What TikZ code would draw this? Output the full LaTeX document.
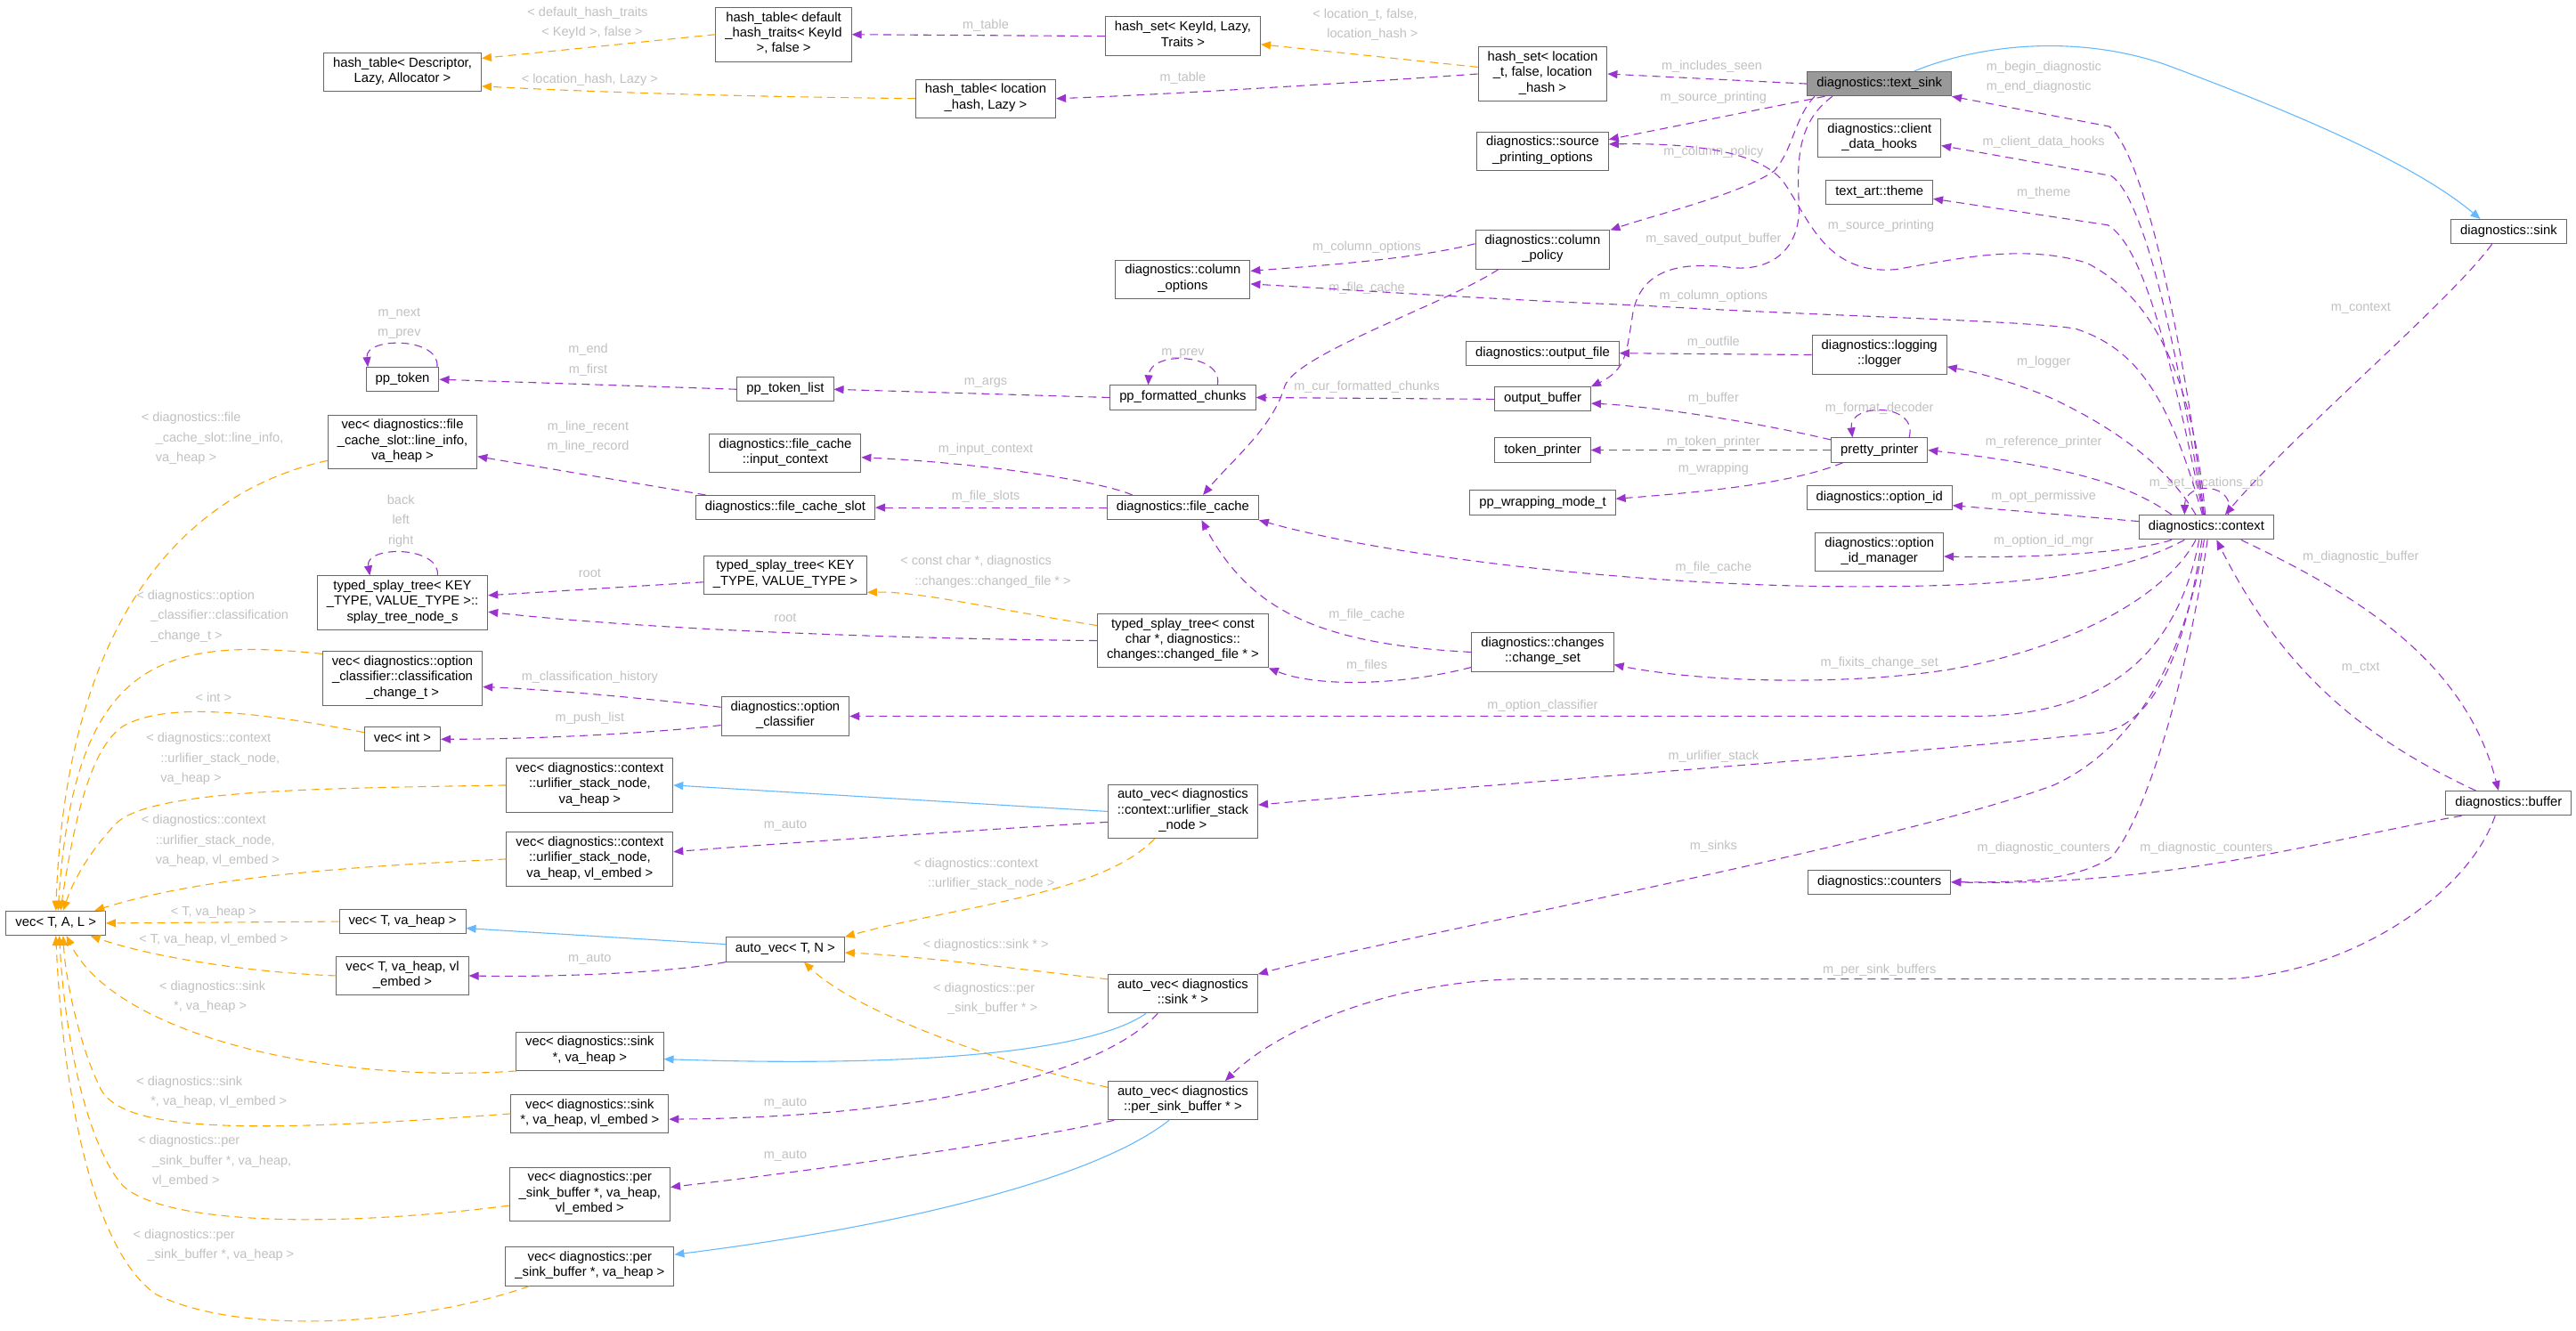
\documentclass[tikz,border=0pt]{standalone}
\usepackage{fontspec}
\setmainfont{Liberation Sans}
\usetikzlibrary{arrows.meta}
\definecolor{edgeuse}{HTML}{9A32CD}
\definecolor{edgetpl}{HTML}{FFA500}
\definecolor{edgebase}{HTML}{63B8FF}
\definecolor{lblgray}{HTML}{C0C0C0}
\definecolor{boxline}{HTML}{666666}
\definecolor{mainfill}{HTML}{999999}
\newcommand{\clsfont}{\fontsize{14.8}{17.3}\selectfont}
\newcommand{\lblfont}{\fontsize{14.5}{22.5}\selectfont}

\begin{document}
\begin{tikzpicture}[x=1.845pt,y=-1.845pt]
\tikzstyle{cls}=[draw=boxline,line width=1pt,fill=white,align=center,font=\clsfont,inner xsep=10.5pt,inner ysep=5pt,execute at begin node=\strut,execute at end node=\strut]
\tikzstyle{lbl}=[text=lblgray,font=\lblfont,align=left,inner sep=0pt,execute at begin node=\strut,execute at end node=\strut]
\tikzstyle{member}=[draw=edgeuse,line width=1.1pt,dash pattern=on 9pt off 6pt,-{Triangle[length=11pt,width=9pt]}]
\tikzstyle{tmpl}=[draw=edgetpl,line width=1.1pt,dash pattern=on 9pt off 6pt,-{Triangle[length=11pt,width=9pt]}]
\tikzstyle{inherit}=[draw=edgebase,line width=1.1pt,-{Triangle[length=11pt,width=9pt]}]
\useasboundingbox (0,0) rectangle (1568,810);
\node[cls] (htdesc) at (245,44) {hash\_table< Descriptor,\\Lazy, Allocator >};
\node[cls] (htdefault) at (477,21) {hash\_table< default\\\_hash\_traits< KeyId\\>, false >};
\node[cls] (hskey) at (720,22) {hash\_set< KeyId, Lazy,\\Traits >};
\node[cls] (htloc) at (600,60) {hash\_table< location\\\_hash, Lazy >};
\node[cls] (hsloc) at (939,45) {hash\_set< location\\\_t, false, location\\\_hash >};
\node[cls,fill=mainfill] (textsink) at (1144,51) {diagnostics::text\_sink};
\node[cls] (srcprint) at (939,92) {diagnostics::source\\\_printing\_options};
\node[cls] (cdhooks) at (1144,84) {diagnostics::client\\\_data\_hooks};
\node[cls] (theme) at (1144,117) {text\_art::theme};
\node[cls] (sink) at (1527,141) {diagnostics::sink};
\node[cls] (colpolicy) at (939,152) {diagnostics::column\\\_policy};
\node[cls] (colopts) at (720,170) {diagnostics::column\\\_options};
\node[cls] (outfile) at (939,215) {diagnostics::output\_file};
\node[cls] (logger) at (1144,216) {diagnostics::logging\\::logger};
\node[cls] (pptoken) at (245,231) {pp\_token};
\node[cls] (pptokenlist) at (478,237) {pp\_token\_list};
\node[cls] (ppchunks) at (720,242) {pp\_formatted\_chunks};
\node[cls] (outbuf) at (939,243) {output\_buffer};
\node[cls] (pp) at (1144,274) {pretty\_printer};
\node[cls] (tokprinter) at (939,274) {token\_printer};
\node[cls] (lineinfo) at (245,269) {vec< diagnostics::file\\\_cache\_slot::line\_info,\\va\_heap >};
\node[cls] (inputctx) at (478,276) {diagnostics::file\_cache\\::input\_context};
\node[cls] (wrapmode) at (939,306) {pp\_wrapping\_mode\_t};
\node[cls] (optid) at (1144,303) {diagnostics::option\_id};
\node[cls] (fcslot) at (478,309) {diagnostics::file\_cache\_slot};
\node[cls] (fcache) at (720,309) {diagnostics::file\_cache};
\node[cls] (ctx) at (1343,321) {diagnostics::context};
\node[cls] (optidmgr) at (1144,336) {diagnostics::option\\\_id\_manager};
\node[cls] (splaynode) at (245,367) {typed\_splay\_tree< KEY\\\_TYPE, VALUE\_TYPE >::\\splay\_tree\_node\_s};
\node[cls] (splaytree) at (478,350) {typed\_splay\_tree< KEY\\\_TYPE, VALUE\_TYPE >};
\node[cls] (splaychanged) at (720,390) {typed\_splay\_tree< const\\char *, diagnostics::\\changes::changed\_file * >};
\node[cls] (changeset) at (939,397) {diagnostics::changes\\::change\_set};
\node[cls] (classif) at (245,413) {vec< diagnostics::option\\\_classifier::classification\\\_change\_t >};
\node[cls] (optclass) at (478,436) {diagnostics::option\\\_classifier};
\node[cls] (vecint) at (245,450) {vec< int >};
\node[cls] (urlheap) at (359,478) {vec< diagnostics::context\\::urlifier\_stack\_node,\\va\_heap >};
\node[cls] (autourl) at (720,494) {auto\_vec< diagnostics\\::context::urlifier\_stack\\\_node >};
\node[cls] (counters) at (1144,537) {diagnostics::counters};
\node[cls] (buffer) at (1527,489) {diagnostics::buffer};
\node[cls] (urlembed) at (359,523) {vec< diagnostics::context\\::urlifier\_stack\_node,\\va\_heap, vl\_embed >};
\node[cls] (vecTAL) at (34,562) {vec< T, A, L >};
\node[cls] (vecheap) at (245,561) {vec< T, va\_heap >};
\node[cls] (autoTN) at (478,578) {auto\_vec< T, N >};
\node[cls] (vecembed) at (245,594) {vec< T, va\_heap, vl\\\_embed >};
\node[cls] (autosink) at (720,605) {auto\_vec< diagnostics\\::sink * >};
\node[cls] (sinkheap) at (359,640) {vec< diagnostics::sink\\*, va\_heap >};
\node[cls] (autopsb) at (720,670) {auto\_vec< diagnostics\\::per\_sink\_buffer * >};
\node[cls] (sinkembed) at (359,678) {vec< diagnostics::sink\\*, va\_heap, vl\_embed >};
\node[cls] (psbembed) at (359,727) {vec< diagnostics::per\\\_sink\_buffer *, va\_heap,\\vl\_embed >};
\node[cls] (psbheap) at (359,771) {vec< diagnostics::per\\\_sink\_buffer *, va\_heap >};
\node[lbl] (l1) at (600,15) {m\_table};
\node[lbl] (l2) at (720,47) {m\_table};
\node[lbl] (l3) at (1042,40) {m\_includes\_seen};
\node[lbl] (l4) at (1043,59) {m\_source\_printing};
\node[lbl] (l5) at (1043,92) {m\_column\_policy};
\node[lbl] (l6) at (1043,145) {m\_saved\_output\_buffer};
\node[lbl] (l7) at (1145,137) {m\_source\_printing};
\node[lbl,anchor=west] (l8) at (1209,48) {m\_begin\_diagnostic\\m\_end\_diagnostic};
\node[lbl] (l9) at (1244,86) {m\_client\_data\_hooks};
\node[lbl] (l10) at (1244,117) {m\_theme};
\node[lbl] (l11) at (1437,187) {m\_context};
\node[lbl] (l12) at (832,150) {m\_column\_options};
\node[lbl] (l13) at (832,175) {m\_file\_cache};
\node[lbl] (l14) at (1043,180) {m\_column\_options};
\node[lbl] (l15) at (1043,208) {m\_outfile};
\node[lbl] (l16) at (1244,220) {m\_logger};
\node[lbl] (l17) at (600,232) {m\_args};
\node[lbl] (l18) at (832,235) {m\_cur\_formatted\_chunks};
\node[lbl] (l19) at (720,214) {m\_prev};
\node[lbl] (l20) at (1043,242) {m\_buffer};
\node[lbl] (l21) at (1144,248) {m\_format\_decoder};
\node[lbl,align=center] (l22) at (243,198) {m\_next\\m\_prev};
\node[lbl,align=center] (l23) at (358,220) {m\_end\\m\_first};
\node[lbl] (l24) at (1043,269) {m\_token\_printer};
\node[lbl] (l25) at (1244,269) {m\_reference\_printer};
\node[lbl] (l26) at (600,273) {m\_input\_context};
\node[lbl,align=center] (l27) at (358,267) {m\_line\_recent\\m\_line\_record};
\node[lbl] (l28) at (1043,285) {m\_wrapping};
\node[lbl] (l29) at (1343,294) {m\_set\_locations\_cb};
\node[lbl] (l30) at (1244,302) {m\_opt\_permissive};
\node[lbl] (l31) at (600,302) {m\_file\_slots};
\node[lbl,align=center] (l32) at (244,318) {back\\left\\right};
\node[lbl] (l33) at (1244,329) {m\_option\_id\_mgr};
\node[lbl] (l34) at (1437,339) {m\_diagnostic\_buffer};
\node[lbl] (l35) at (1043,345) {m\_file\_cache};
\node[lbl] (l36) at (359,349) {root};
\node[lbl] (l37) at (478,376) {root};
\node[lbl] (l38) at (832,374) {m\_file\_cache};
\node[lbl] (l39) at (1144,403) {m\_fixits\_change\_set};
\node[lbl] (l40) at (832,405) {m\_files};
\node[lbl] (l41) at (1437,406) {m\_ctxt};
\node[lbl] (l42) at (359,412) {m\_classification\_history};
\node[lbl] (l43) at (939,429) {m\_option\_classifier};
\node[lbl] (l44) at (359,437) {m\_push\_list};
\node[lbl] (l45) at (1043,460) {m\_urlifier\_stack};
\node[lbl] (l46) at (478,502) {m\_auto};
\node[lbl] (l47) at (1043,515) {m\_sinks};
\node[lbl] (l48) at (1244,516) {m\_diagnostic\_counters};
\node[lbl] (l49) at (1343,516) {m\_diagnostic\_counters};
\node[lbl] (l50) at (359,583) {m\_auto};
\node[lbl] (l51) at (1144,590) {m\_per\_sink\_buffers};
\node[lbl] (l52) at (478,671) {m\_auto};
\node[lbl] (l53) at (478,703) {m\_auto};
\node[lbl,anchor=west] (t1) at (321,15) {< default\_hash\_traits\\\hspace*{16pt}< KeyId >, false >};
\node[lbl] (t2) at (359,48) {< location\_hash, Lazy >};
\node[lbl,anchor=west] (t3) at (799,16) {< location\_t, false,\\\hspace*{16pt}location\_hash >};
\node[lbl,anchor=west] (t4) at (548,349) {< const char *, diagnostics\\\hspace*{16pt}::changes::changed\_file * >};
\node[lbl,anchor=west] (t5) at (86,268) {< diagnostics::file\\\hspace*{16pt}\_cache\_slot::line\_info,\\\hspace*{16pt}va\_heap >};
\node[lbl,anchor=west] (t6) at (83,376) {< diagnostics::option\\\hspace*{16pt}\_classifier::classification\\\hspace*{16pt}\_change\_t >};
\node[lbl] (t7) at (130,425) {< int >};
\node[lbl,anchor=west] (t8) at (89,463) {< diagnostics::context\\\hspace*{16pt}::urlifier\_stack\_node,\\\hspace*{16pt}va\_heap >};
\node[lbl,anchor=west] (t9) at (86,513) {< diagnostics::context\\\hspace*{16pt}::urlifier\_stack\_node,\\\hspace*{16pt}va\_heap, vl\_embed >};
\node[lbl,anchor=west] (t10) at (556,533) {< diagnostics::context\\\hspace*{16pt}::urlifier\_stack\_node >};
\node[lbl] (t11) at (130,555) {< T, va\_heap >};
\node[lbl] (t12) at (130,572) {< T, va\_heap, vl\_embed >};
\node[lbl] (t13) at (600,575) {< diagnostics::sink * >};
\node[lbl,anchor=west] (t14) at (97,608) {< diagnostics::sink\\\hspace*{16pt}*, va\_heap >};
\node[lbl,anchor=west] (t15) at (568,609) {< diagnostics::per\\\hspace*{16pt}\_sink\_buffer * >};
\node[lbl,anchor=west] (t16) at (83,666) {< diagnostics::sink\\\hspace*{16pt}*, va\_heap, vl\_embed >};
\node[lbl,anchor=west] (t17) at (84,708) {< diagnostics::per\\\hspace*{16pt}\_sink\_buffer *, va\_heap,\\\hspace*{16pt}vl\_embed >};
\node[lbl,anchor=west] (t18) at (81,759) {< diagnostics::per\\\hspace*{16pt}\_sink\_buffer *, va\_heap >};
\draw[tmpl] (htdefault.west) -- (htdesc.10);
\draw[tmpl] (htloc.west) .. controls (470,59) and (380,57) .. (htdesc.-10);
\draw[tmpl] (hsloc.174) -- (hskey.-6);
\draw[tmpl] (splaychanged.170) .. controls (600,370) and (560,360) .. (splaytree.-12);
\draw[tmpl] (lineinfo.194) .. controls (110,300) and (40,380) .. (vecTAL.90);
\draw[tmpl] (classif.163) .. controls (100,388) and (45,400) .. (vecTAL.80);
\draw[tmpl] (vecint.170) .. controls (150,432) and (100,428) .. (75,442) .. controls (55,455) and (45,500) .. (vecTAL.70);
\draw[tmpl] (urlheap.west) .. controls (200,480) and (90,480) .. (70,502) .. controls (55,518) and (45,535) .. (vecTAL.60);
\draw[tmpl] (urlembed.west) .. controls (200,528) and (120,535) .. (vecTAL.18);
\draw[tmpl] (vecheap.west) -- (vecTAL.east);
\draw[tmpl] (vecembed.west) .. controls (150,592) and (90,582) .. (vecTAL.-20);
\draw[tmpl] (sinkheap.195) .. controls (200,660) and (70,630) .. (vecTAL.-50);
\draw[tmpl] (sinkembed.west) .. controls (150,690) and (70,690) .. (60,660) .. controls (50,640) and (40,600) .. (vecTAL.-60);
\draw[tmpl] (psbembed.188) .. controls (200,748) and (100,745) .. (75,722) .. controls (55,700) and (40,640) .. (vecTAL.-75);
\draw[tmpl] (psbheap.-162) .. controls (260,805) and (150,815) .. (95,788) .. controls (55,760) and (38,660) .. (vecTAL.south);
\draw[tmpl] (autourl.-136) .. controls (670,545) and (580,552) .. (autoTN.north east);
\draw[tmpl] (autosink.169) .. controls (620,590) and (560,582) .. (autoTN.-3);
\draw[tmpl] (autopsb.170) .. controls (600,645) and (520,615) .. (autoTN.-34);
\draw[inherit] (textsink.20) .. controls (1210,25) and (1270,22) .. (1320,40) .. controls (1400,70) and (1470,100) .. (sink.156);
\draw[inherit] (autourl.west) -- (urlheap.east);
\draw[inherit] (autoTN.175) -- (vecheap.-6);
\draw[inherit] (autosink.-152) .. controls (665,640) and (560,650) .. (sinkheap.-6);
\draw[inherit] (autopsb.-125) .. controls (670,715) and (560,745) .. (psbheap.8);
\draw[member] (hskey.west) -- (htdefault.east);
\draw[member] (hsloc.west) .. controls (800,52) and (700,58) .. (htloc.east);
\draw[member] (textsink.west) -- (hsloc.east);
\draw[member] (textsink.-167) -- (srcprint.10);
\draw[member] (textsink.-169) .. controls (1092,72) and (1092,90) .. (1080,104) .. controls (1060,118) and (1010,130) .. (colpolicy.north east);
\draw[member] (textsink.-165) .. controls (1093,75) and (1094,100) .. (1095,125) .. controls (1096,150) and (1080,165) .. (1055,163) .. controls (1030,160) and (1000,160) .. (994,190) .. controls (990,215) and (990,225) .. (outbuf.north east);
\draw[member] (ctx.100) .. controls (1328,200) and (1305,95) .. (1284,77) -- (textsink.south east);
\draw[member] (ctx.102) .. controls (1325,210) and (1305,120) .. (1285,107) -- (cdhooks.-7);
\draw[member] (ctx.104) .. controls (1322,220) and (1305,150) .. (1283,137) -- (theme.-7);
\draw[member] (ctx.95) .. controls (1335,230) and (1310,180) .. (1270,160) .. controls (1230,148) and (1190,158) .. (1154,164) .. controls (1110,168) and (1100,130) .. (1085,110) .. controls (1070,92) and (1030,87) .. (srcprint.6);
\draw[member] (ctx.108) .. controls (1320,240) and (1300,212) .. (1263,200) .. controls (1230,195) and (1100,192) .. (1000,186) .. controls (900,182) and (800,175) .. (colopts.-4);
\draw[member] (colpolicy.175) .. controls (860,158) and (800,162) .. (colopts.7);
\draw[member] (colpolicy.-156) .. controls (880,185) and (790,215) .. (782,235) .. controls (775,260) and (750,280) .. (fcache.32);
\draw[member] (ctx.130) .. controls (1320,285) and (1290,262) .. (1250,243) .. controls (1225,232) and (1200,226) .. (logger.-10);
\draw[member] (ctx.160) .. controls (1300,298) and (1270,285) .. (pp.east);
\draw[member] (ctx.30) .. controls (1362,294) and (1330,292) .. (ctx.150);
\draw[member] (ctx.175) -- (optid.-6);
\draw[member] (ctx.-160) .. controls (1300,336) and (1240,340) .. (optidmgr.-4);
\draw[member] (ctx.-150) .. controls (1290,350) and (1230,358) .. (1115,357) .. controls (1000,356) and (850,340) .. (fcache.south east);
\draw[member] (changeset.west) .. controls (800,392) and (760,370) .. (fcache.-34);
\draw[member] (changeset.-168) .. controls (850,418) and (800,418) .. (splaychanged.south east);
\draw[member] (ctx.-130) .. controls (1320,360) and (1270,390) .. (1200,405) .. controls (1150,416) and (1050,418) .. (changeset.-10);
\draw[member] (ctx.-120) .. controls (1325,400) and (1280,436) .. (1200,436) -- (optclass.east);
\draw[member] (ctx.-110) .. controls (1330,400) and (1310,440) .. (1280,446) .. controls (1150,460) and (900,478) .. (autourl.5);
\draw[member] (ctx.-100) .. controls (1330,400) and (1300,455) .. (1250,478) .. controls (1150,515) and (850,570) .. (autosink.north east);
\draw[member] (ctx.-85) .. controls (1330,420) and (1305,500) .. (1285,522) .. controls (1260,538) and (1220,537) .. (counters.east);
\draw[member] (buffer.-165) .. controls (1420,510) and (1320,540) .. (counters.east);
\draw[member] (ctx.-20) .. controls (1430,360) and (1500,400) .. (buffer.129);
\draw[member] (buffer.159) .. controls (1440,450) and (1390,410) .. (ctx.-51);
\draw[member] (buffer.-137) .. controls (1500,550) and (1420,596) .. (1350,596) -- (930,596) .. controls (850,596) and (780,625) .. (autopsb.25);
\draw[member] (sink.-143) .. controls (1490,185) and (1400,260) .. (ctx.34);
\draw[member] (logger.west) -- (outfile.east);
\draw[member] (outbuf.west) -- (ppchunks.east);
\draw[member] (ppchunks.west) -- (pptokenlist.east);
\draw[member] (pptokenlist.west) -- (pptoken.east);
\draw[member] (pp.168) .. controls (1060,255) and (1000,247) .. (outbuf.-5);
\draw[member] (pp.west) -- (tokprinter.east);
\draw[member] (pp.-161) .. controls (1090,295) and (1030,300) .. (wrapmode.3);
\draw[member] (pp.23) .. controls (1168,245) and (1125,245) .. (pp.155);
\draw[member] (ppchunks.20) .. controls (745,215) and (700,213) .. (ppchunks.160);
\draw[member] (pptoken.20) .. controls (268,205) and (222,205) .. (pptoken.160);
\draw[member] (splaynode.38) .. controls (268,332) and (222,332) .. (splaynode.140);
\draw[member] (fcache.166) .. controls (670,293) and (600,282) .. (inputctx.-3);
\draw[member] (fcache.west) -- (fcslot.east);
\draw[member] (fcslot.171) -- (lineinfo.-11);
\draw[member] (splaytree.185) -- (splaynode.5);
\draw[member] (splaychanged.west) .. controls (560,389) and (400,384) .. (splaynode.-6);
\draw[member] (optclass.172) .. controls (400,426) and (340,420) .. (classif.-6);
\draw[member] (optclass.-172) .. controls (400,446) and (330,450) .. (vecint.east);
\draw[member] (autourl.-172) .. controls (600,505) and (480,513) .. (urlembed.5);
\draw[member] (autoTN.south west) .. controls (410,592) and (340,595) .. (vecembed.east);
\draw[member] (autosink.-142) .. controls (670,655) and (560,680) .. (sinkembed.-4);
\draw[member] (autopsb.-164) .. controls (620,695) and (500,712) .. (psbembed.5);
\end{tikzpicture}
\end{document}
